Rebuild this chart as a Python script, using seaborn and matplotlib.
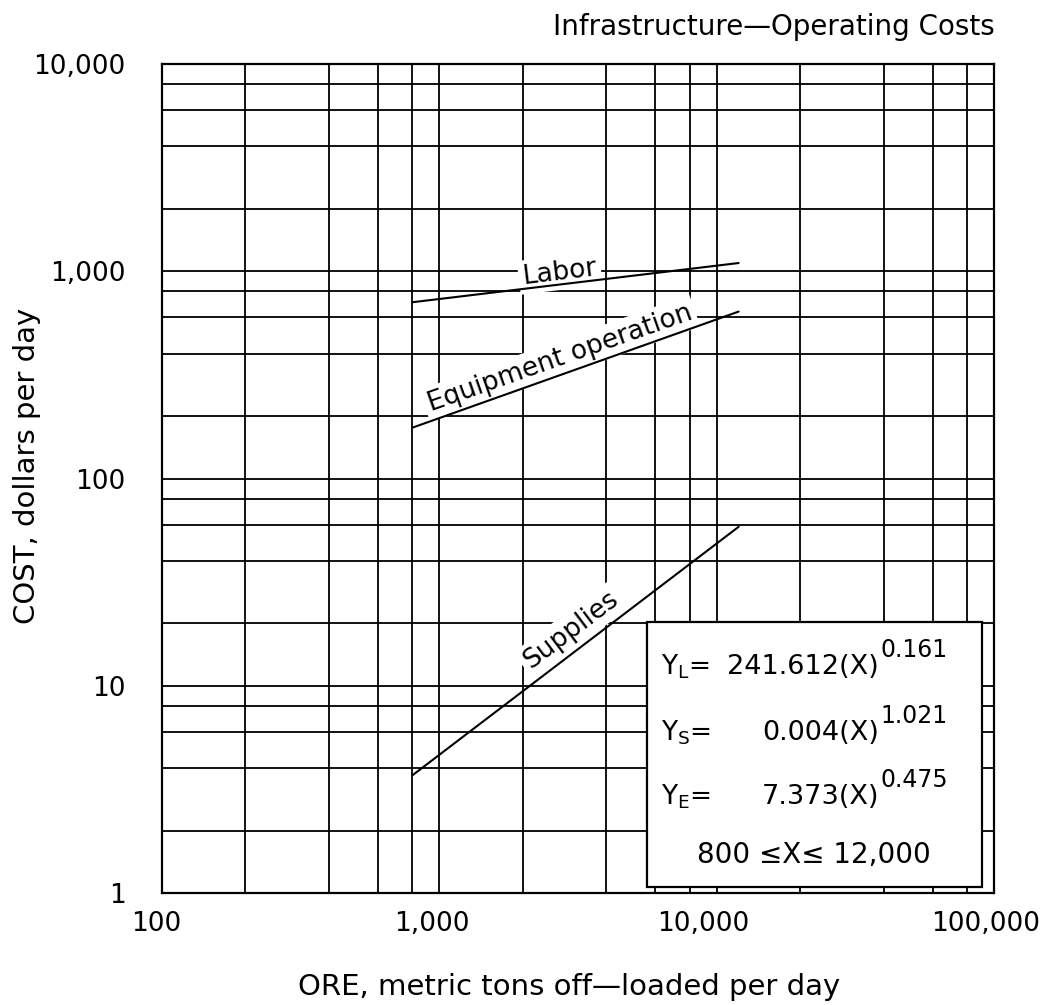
import matplotlib
matplotlib.use("Agg")
import matplotlib.pyplot as plt
from matplotlib.patches import Rectangle
from matplotlib.ticker import NullFormatter
from matplotlib.transforms import ScaledTranslation
import pandas as pd
import seaborn as sns

# Tonnage range covered by the fitted cost curves (metric tons per day)
ore_tons = [800, 12000]
# Daily cost at each end of the range (dollars per day)
labor_cost = [709, 1096]
equipment_cost = [176, 639]
supplies_cost = [3.7, 58.5]
component_names = ["Labor", "Equipment operation", "Supplies"]

x_ticks = [100, 1000, 10000, 100000]
x_tick_labels = ["100", "1,000", "10,000", "100,000"]
y_ticks = [1, 10, 100, 1000, 10000]
y_tick_labels = ["1", "10", "100", "1,000", "10,000"]
grid_multiples = [2, 4, 6, 8]

# Fitted power curves: subscript, coefficient, exponent
equations = [("L", "241.612", "0.161"),
             ("S", "0.004", "1.021"),
             ("E", "7.373", "0.475")]
range_text = "800 ≤X≤ 12,000"

sns.set_theme(style="white")
plt.rcParams["font.family"] = ["DejaVu Sans"]
plt.rcParams["mathtext.default"] = "regular"
plt.rcParams["text.color"] = "black"
plt.rcParams["axes.labelcolor"] = "black"

df = pd.DataFrame({
    "ore": ore_tons * 3,
    "cost": labor_cost + equipment_cost + supplies_cost,
    "component": [n for n in component_names for _ in ore_tons],
})

fig = plt.figure(figsize=(10.49, 10.05), dpi=100)
ax = fig.add_axes([0.1544, 0.1114, 0.7932, 0.8249])

sns.lineplot(data=df, x="ore", y="cost", units="component", estimator=None,
             color="black", linewidth=1.5, ax=ax, zorder=5)

ax.set_xscale("log")
ax.set_yscale("log")
ax.set_xlim(100, 100000)
ax.set_ylim(1, 10000)

ax.set_xticks(x_ticks)
ax.set_xticklabels(x_tick_labels)
ax.set_yticks(y_ticks)
ax.set_yticklabels(y_tick_labels)
ax.set_xticks([m * 10 ** k for k in (2, 3, 4) for m in grid_multiples], minor=True)
ax.set_yticks([m * 10 ** k for k in (0, 1, 2, 3) for m in grid_multiples], minor=True)
ax.xaxis.set_minor_formatter(NullFormatter())
ax.yaxis.set_minor_formatter(NullFormatter())
ax.tick_params(which="both", length=0, labelsize=19, colors="black")
ax.tick_params(axis="y", pad=26)
ax.tick_params(axis="x", pad=13)

# Nudge the x tick labels the way the plotter placed them
for lab, dx in zip(ax.get_xticklabels(), [-6, -7, -13, -8]):
    lab.set_transform(lab.get_transform() + ScaledTranslation(dx / 100, 0, fig.dpi_scale_trans))

ax.grid(True, which="both", color="black", linewidth=1.3)
ax.set_axisbelow(True)
for sp in ax.spines.values():
    sp.set_color("black")
    sp.set_linewidth(1.6)

ax.set_xlabel("")
ax.set_ylabel("")

# Curve labels, blanking the grid behind them
blank = dict(boxstyle="square,pad=0.15", fc="white", ec="none")
ax.text(0.478, 0.748, component_names[0], rotation=7, ha="center", va="center",
        fontsize=19, transform=ax.transAxes, bbox=blank, zorder=4)
ax.text(0.478, 0.645, component_names[1], rotation=19.4, ha="center", va="center",
        fontsize=19, transform=ax.transAxes, bbox=blank, zorder=4)
ax.text(0.4916, 0.317, component_names[2], rotation=37, ha="center", va="center",
        fontsize=19, transform=ax.transAxes, bbox=blank, zorder=4)

# Equation box
ax.add_patch(Rectangle((0.583, 0.0072), 0.4026, 0.3198, transform=ax.transAxes,
                       facecolor="white", edgecolor="black", linewidth=1.6, zorder=6))
rows_y = [0.2726, 0.193, 0.1158]
for (sub, coef, expo), y in zip(equations, rows_y):
    ax.text(0.600, y, "$Y_{%s}$=" % sub, ha="left", va="center", fontsize=19,
            transform=ax.transAxes, zorder=7)
    ax.text(0.862, y, f"{coef}(X)", ha="right", va="center", fontsize=19.5,
            transform=ax.transAxes, zorder=7)
    ax.text(0.864, y + 0.0205, expo, ha="left", va="center", fontsize=17,
            transform=ax.transAxes, zorder=7)
ax.text(0.7837, 0.0458, range_text, ha="center", va="center", fontsize=20,
        transform=ax.transAxes, zorder=7)

fig.text(995 / 1049, 1 - 27 / 1005, "Infrastructure—Operating Costs",
         ha="right", va="center", fontsize=20)
fig.text(569 / 1049, 1 - 987 / 1005, "ORE, metric tons off—loaded per day",
         ha="center", va="center", fontsize=21)
fig.text(27 / 1049, 1 - 466 / 1005, "COST, dollars per day", rotation=90,
         ha="center", va="center", fontsize=21)

fig.savefig("out.png", dpi=100, facecolor="white")
